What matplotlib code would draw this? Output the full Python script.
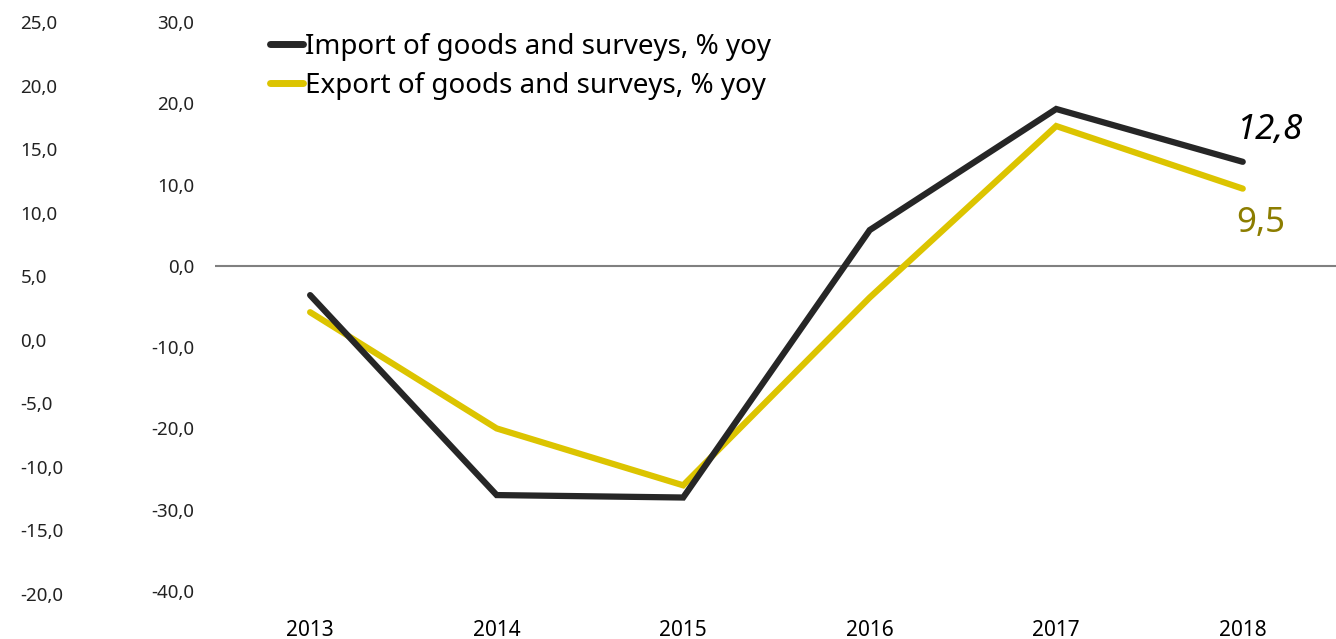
import matplotlib

matplotlib.use("Agg")
import matplotlib.pyplot as plt
import numpy as np

years = ["2013", "2014", "2015", "2016", "2017", "2018"]
imports = [-3.6, -28.2, -28.5, 4.4, 19.3, 12.8]
exports = [-5.7, -20.0, -27.0, -3.9, 17.2, 9.5]
left_ticks = [25, 20, 15, 10, 5, 0, -5, -10, -15, -20]
main_ticks = [30, 20, 10, 0, -10, -20, -30, -40]

IMPORT_COLOR = "#262626"
EXPORT_COLOR = "#dcc400"
LABEL_EXPORT = "#8c7d00"

plt.rcParams["font.family"] = ["Noto Sans", "DejaVu Sans"]


def comma(v):
    return f"{v:.1f}".replace(".", ",")


fig = plt.figure(figsize=(13.36, 6.39), dpi=100)
rect = [215 / 1336, 45 / 639, 1121 / 1336, 572 / 639]
ax = fig.add_axes(rect)
x = np.arange(len(years))

ax.axhline(0, color="#808080", linewidth=1.5, zorder=1)
ax.plot(x, imports, color=IMPORT_COLOR, linewidth=4.5, solid_capstyle="round",
        solid_joinstyle="miter", label="Import of goods and surveys, % yoy", zorder=3)
ax.plot(x, exports, color=EXPORT_COLOR, linewidth=4.5, solid_capstyle="round",
        solid_joinstyle="miter", label="Export of goods and surveys, % yoy", zorder=2)

ax.set_xlim(-0.51, 5.50)
ax.set_ylim(-40.37, 30)
ax.set_xticks(x)
ax.set_xticklabels(years, fontsize=15, color="black")
ax.set_yticks(main_ticks)
ax.set_yticklabels([comma(v) for v in main_ticks], fontsize=13.5, color="#222222")
ax.tick_params(axis="both", length=0)
ax.tick_params(axis="y", pad=15)
ax.tick_params(axis="x", pad=18.5)
for s in ax.spines.values():
    s.set_visible(False)

ax.annotate(comma(imports[-1]), xy=(x[-1], imports[-1]), xytext=(19, 23),
            textcoords="offset points", ha="center", va="center",
            fontsize=25, style="italic", color="black")
ax.annotate(comma(exports[-1]), xy=(x[-1], exports[-1]), xytext=(13, -25),
            textcoords="offset points", ha="center", va="center",
            fontsize=25, color=LABEL_EXPORT)

leg = ax.legend(loc="upper left", bbox_to_anchor=(270 / 1336, 1 - 33 / 639),
                bbox_transform=fig.transFigure, frameon=False, fontsize=20,
                handlelength=1.2, handletextpad=0.05, labelspacing=0.38,
                borderpad=0, borderaxespad=0)
for line in leg.get_lines():
    line.set_linewidth(5)

# secondary scale drawn on the far left, labels left-aligned
ax2 = fig.add_axes(rect)
ax2.patch.set_visible(False)
ax2.set_ylim(-20, 25)
ax2.set_xticks([])
ax2.set_yticks(left_ticks)
ax2.set_yticklabels([comma(v) for v in left_ticks], fontsize=13.5, color="#222222",
                    ha="left")
ax2.tick_params(axis="y", length=0, pad=140)
for s in ax2.spines.values():
    s.set_visible(False)

fig.savefig("out.png", dpi=100)
